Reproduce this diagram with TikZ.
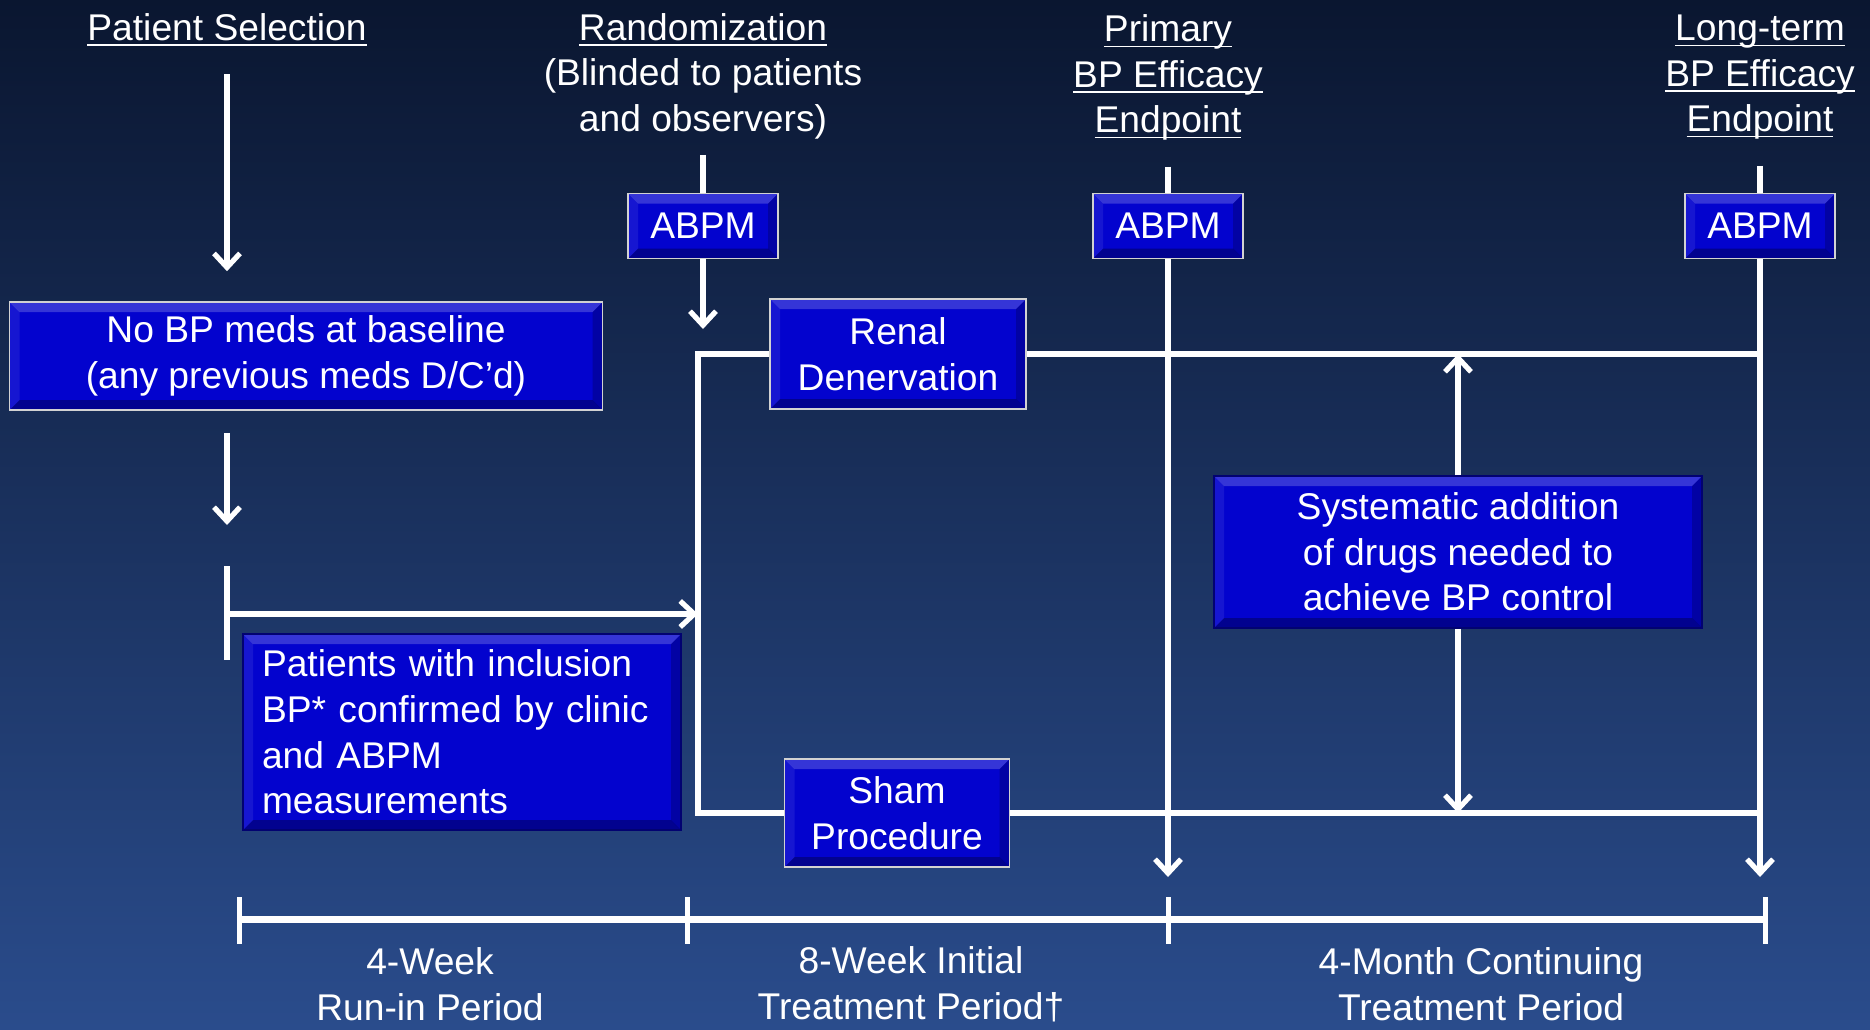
\documentclass[tikz,border=0pt]{standalone}
\usepackage{amsmath}
\usepackage{fontspec}
\setmainfont{Liberation Sans}
\usetikzlibrary{arrows.meta}

\definecolor{bgtop}{RGB}{10,22,48}
\definecolor{bgmid}{RGB}{22,42,82}
\definecolor{bgbot}{RGB}{42,76,140}
\definecolor{boxblue}{RGB}{3,3,206}

\newcommand{\hdline}[1]{\underline{\smash[b]{#1}}}

\tikzset{
  txt/.style={text=white, font=\fontsize{18.6}{22.8}\selectfont, align=center},
  bevel/.style={path picture={
    \fill[white,opacity=.2] (path picture bounding box.north west) -- (path picture bounding box.north east)
      -- ([shift={(-5pt,-5pt)}]path picture bounding box.north east) -- ([shift={(5pt,-5pt)}]path picture bounding box.north west) -- cycle;
    \fill[black,opacity=.3] (path picture bounding box.south west) -- (path picture bounding box.south east)
      -- ([shift={(-5pt,5pt)}]path picture bounding box.south east) -- ([shift={(5pt,5pt)}]path picture bounding box.south west) -- cycle;
    \fill[black,opacity=.2] (path picture bounding box.north east) -- (path picture bounding box.south east)
      -- ([shift={(-5pt,5pt)}]path picture bounding box.south east) -- ([shift={(-5pt,-5pt)}]path picture bounding box.north east) -- cycle;
    \fill[white,opacity=.08] (path picture bounding box.north west) -- (path picture bounding box.south west)
      -- ([shift={(5pt,5pt)}]path picture bounding box.south west) -- ([shift={(5pt,-5pt)}]path picture bounding box.north west) -- cycle;
  }},
  bluebox/.style={txt, fill=boxblue, draw=gray!35, line width=0.8pt, inner sep=0pt, bevel},
  darkedge/.style={draw=boxblue!55!black},
  wire/.style={draw=white, line width=2.6pt},
  arr/.style={wire, -{Straight Barb[length=7pt,width=13pt]}},
}

\begin{document}
\begin{tikzpicture}[x=0.5pt,y=-0.5pt]
\useasboundingbox (0,0) rectangle (1870,1029);
\shade[top color=bgtop, middle color=bgmid, bottom color=bgbot] (0,0) rectangle (1870,1029);

% headings
\node[txt] (sel) at (227,30) {\hdline{Patient Selection}};
\node[txt] (rand) at (703,76) {\hdline{Randomization}\\(Blinded to patients\\and observers)};
\node[txt] (prim) at (1168,77) {\hdline{Primary}\\\hdline{BP Efficacy}\\\hdline{Endpoint}};
\node[txt] (longt) at (1760,77) {\hdline{Long-term}\\\hdline{BP Efficacy}\\\hdline{Endpoint}};

% boxes
\node[bluebox, minimum width=296.5pt, minimum height=54pt] (nomeds) at (306,356) {No BP meds at baseline\\(any previous meds D/C’d)};
\node[bluebox, darkedge, minimum width=219pt, minimum height=98pt, text width=200pt, align=left] (patients) at (462,732)
  {Patients with inclusion\\BP* confirmed by clinic\\and ABPM\\measurements};
\node[bluebox, minimum width=75pt, minimum height=32.5pt] (abpmA) at (703,226) {ABPM};
\node[bluebox, minimum width=75pt, minimum height=32.5pt] (abpmB) at (1168,226) {ABPM};
\node[bluebox, minimum width=75pt, minimum height=32.5pt] (abpmC) at (1760,226) {ABPM};
\node[bluebox, minimum width=128pt, minimum height=55pt] (renal) at (898,354) {Renal\\Denervation};
\node[bluebox, minimum width=112.5pt, minimum height=54pt] (sham) at (897,813) {Sham\\Procedure};
\node[bluebox, darkedge, minimum width=244pt, minimum height=76pt] (sys) at (1458,552) {Systematic addition\\of drugs needed to\\achieve BP control};

% timeline points
\coordinate (tick) at (227,614);
\coordinate (split) at (698,614);
\coordinate (t0) at (239,919);
\coordinate (t1) at (687,919);
\coordinate (t2) at (1168,919);
\coordinate (t3) at (1765,919);

% run-in
\draw[arr, shorten <=10pt, shorten >=15pt] (sel) -- (sel |- nomeds.north);
\draw[arr, shorten <=11pt, shorten >=44.5pt] (nomeds.south -| tick) -- (tick);
\draw[wire] ([yshift=24pt]tick) -- ([yshift=-23pt]tick);
\draw[arr] (tick) -- (split);

% randomization
\draw[wire, shorten <=4.5pt] (rand) -- (abpmA);
\draw[arr, shorten >=12.5pt] (abpmA) -- (abpmA |- renal.west);
\draw[wire] (renal.west) -| (split) |- (sham.west);
\draw[wire] (renal.east) -- (renal.east -| abpmC);
\draw[wire] (sham.east) -- (sham.east -| abpmC);

% endpoints
\draw[wire, shorten <=10pt] (prim) -- (abpmB);
\draw[wire, shorten <=10pt] (longt) -- (abpmC);
\draw[arr, shorten >=21pt] (abpmB) -- (abpmB |- t2);
\draw[arr, shorten >=21pt] (abpmC) -- (abpmC |- t3);

% drug addition
\draw[arr] (sys) -- (sys |- renal.east);
\draw[arr] (sys) -- (sys |- sham.east);

% periods
\draw[white, line width=3.5pt] (t0) -- (t3);
\foreach \t in {t0,t1,t2,t3}
  \draw[white, line width=2.5pt] ([yshift=11pt]\t) -- ([yshift=-12.5pt]\t);
\node[txt] (runin) at (430,984) {4-Week\\Run-in Period};
\node[txt] (initial) at (911,984) {8-Week Initial\\Treatment Period†};
\node[txt] (contin) at (1481,984) {4-Month Continuing\\Treatment Period};
\end{tikzpicture}
\end{document}
